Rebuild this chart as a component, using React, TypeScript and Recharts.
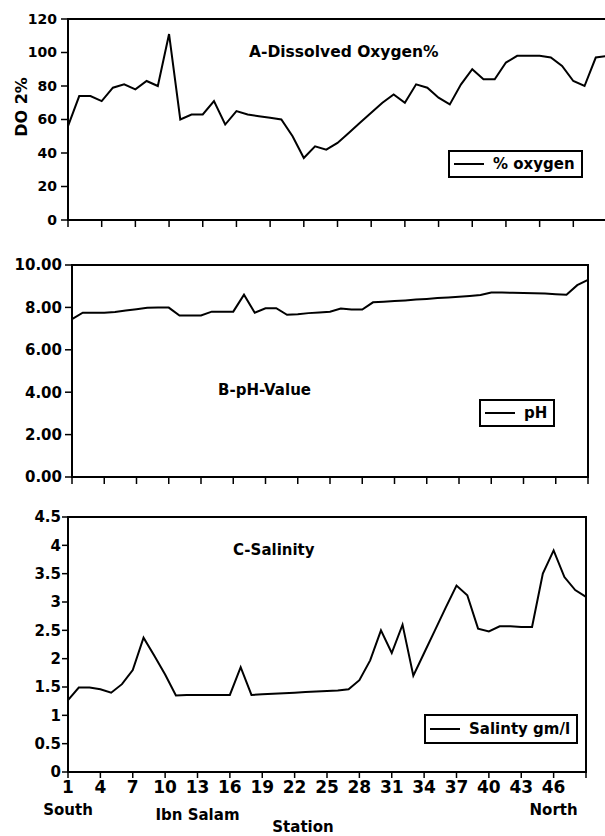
import React from "react";
import { LineChart, Line, XAxis, YAxis, ReferenceArea, Legend, Label } from "recharts";

const stations = [
  1, 2, 3, 4, 5, 6, 7, 8, 9, 10, 11, 12, 13, 14, 15, 16, 17, 18, 19, 20, 21, 22, 23, 24, 25,
  26, 27, 28, 29, 30, 31, 32, 33, 34, 35, 36, 37, 38, 39, 40, 41, 42, 43, 44, 45, 46, 47, 48, 49,
];
const stationTicks = [1, 4, 7, 10, 13, 16, 19, 22, 25, 28, 31, 34, 37, 40, 43, 46, 49];
const placeNames: Record<number, string> = { 1: "South", 13: "Ibn Salam", 46: "North" };

const oxygen = [
  56, 74, 74, 71, 79, 81, 78, 83, 80, 111, 60, 63, 63, 71, 57, 65, 63, 62, 61, 60, 50, 37, 44, 42, 46,
  52, 58, 64, 70, 75, 70, 81, 79, 73, 69, 81, 90, 84, 84, 94, 98, 98, 98, 97, 92, 83, 80, 97, 98,
];
const ph = [
  7.45, 7.75, 7.75, 7.75, 7.78, 7.85, 7.91, 7.98, 7.99, 7.99, 7.62, 7.62, 7.62, 7.8, 7.8, 7.8, 8.6,
  7.75, 7.96, 7.96, 7.65, 7.68, 7.73, 7.76, 7.8, 7.95, 7.9, 7.9, 8.24, 8.27, 8.3, 8.33, 8.37, 8.4,
  8.44, 8.47, 8.5, 8.54, 8.59, 8.7, 8.7, 8.69, 8.68, 8.67, 8.65, 8.62, 8.6, 9.05, 9.3,
];
const salinity = [
  1.27, 1.49, 1.49, 1.46, 1.4, 1.55, 1.8, 2.37, 2.05, 1.72, 1.35, 1.36, 1.36, 1.36, 1.36, 1.36, 1.85,
  1.36, 1.37, 1.38, 1.39, 1.4, 1.41, 1.42, 1.43, 1.44, 1.46, 1.62, 1.97, 2.5, 2.1, 2.6, 1.7, 2.1,
  2.5, 2.9, 3.29, 3.12, 2.53, 2.48, 2.57, 2.57, 2.56, 2.56, 3.5, 3.91, 3.44, 3.21, 3.09,
];

const oxygenTicks = [0, 20, 40, 60, 80, 100, 120];
const phTicks = [0, 2, 4, 6, 8, 10];
const salinityTicks = [0, 0.5, 1, 1.5, 2, 2.5, 3, 3.5, 4, 4.5];

const data = stations.map((s, i) => ({
  station: s,
  oxygen: oxygen[i],
  ph: ph[i],
  salinity: salinity[i],
}));

const font = "'DejaVu Sans', sans-serif";
const axisLine = { stroke: "#000", strokeWidth: 2 };
const tickLine = { stroke: "#000", strokeWidth: 1.5 };
const X_TICK = 7;
const X_GAP = 3;

function BoxLegend(props: any) {
  const item = props.payload && props.payload[0];
  return (
    <div
      style={{
        display: "inline-flex",
        alignItems: "center",
        border: "2px solid #000",
        height: props.h || 24,
        padding: "0 6px 0 4px",
        background: "#fff",
        fontFamily: font,
        fontWeight: "bold",
        fontSize: 15,
        color: "#000",
        whiteSpace: "nowrap",
      }}
    >
      <div style={{ width: 30, height: 2, background: "#000", marginRight: 9 }} />
      <span>{item ? item.value : ""}</span>
    </div>
  );
}

// x tick: draws its own tick mark, plus the station number / place name when asked
function StationTick(props: any) {
  const { x, y, payload, labels } = props;
  const v = payload.value;
  const top = y - X_GAP - X_TICK;
  const name = labels ? placeNames[v] : undefined;
  return (
    <g>
      <line x1={x} x2={x} y1={top} y2={top + X_TICK} stroke="#000" strokeWidth={1.5} />
      {labels && v !== 49 && (
        <text x={x} y={y} dy={12} textAnchor="middle" fontFamily={font} fontWeight="bold" fontSize={17} fill="#000">
          {v}
        </text>
      )}
      {name && (
        <text
          x={x}
          y={y + (v === 13 ? 39 : 34)}
          textAnchor="middle"
          fontFamily={font}
          fontWeight="bold"
          fontSize={15}
          fill="#000"
        >
          {name}
        </text>
      )}
    </g>
  );
}

const tickFont = (size: number) => ({ fill: "#000", fontSize: size, fontFamily: font, fontWeight: "bold" });

export default function App() {
  return (
    <div
      style={{
        position: "absolute",
        left: 0,
        top: 0,
        width: 605,
        height: 836,
        overflow: "hidden",
        background: "#fff",
      }}
    >
      {/* A - dissolved oxygen */}
      <div style={{ position: "absolute", left: 0, top: 0 }}>
        <LineChart width={620} height={250} data={data} margin={{ top: 19, right: 13, left: 0, bottom: 0 }}>
          <ReferenceArea x1={1} x2={49} y1={0} y2={120} fill="none" stroke="#000" strokeWidth={2} />
          <XAxis
            dataKey="station"
            type="number"
            domain={[1, 49]}
            ticks={stationTicks}
            interval={0}
            height={30}
            axisLine={axisLine}
            tickLine={false}
            tickSize={X_TICK}
            tickMargin={X_GAP}
            tick={<StationTick />}
          />
          <YAxis
            type="number"
            domain={[0, 120]}
            ticks={oxygenTicks}
            interval={0}
            width={68}
            axisLine={axisLine}
            tickLine={tickLine}
            tickSize={7}
            tickMargin={4}
            tick={tickFont(14)}
          />
          <Legend
            layout="horizontal"
            verticalAlign="middle"
            align="center"
            wrapperStyle={{ left: 448, top: 150, width: "auto", height: "auto" }}
            content={<BoxLegend />}
          />
          <Line
            type="linear"
            dataKey="oxygen"
            name="% oxygen"
            stroke="#000"
            strokeWidth={2}
            dot={false}
            isAnimationActive={false}
          />
        </LineChart>
      </div>

      {/* B - pH */}
      <div style={{ position: "absolute", left: 0, top: 240 }}>
        <LineChart width={600} height={260} data={data} margin={{ top: 25, right: 12, left: 0, bottom: 0 }}>
          <ReferenceArea x1={1} x2={49} y1={0} y2={10} fill="none" stroke="#000" strokeWidth={2} />
          <XAxis
            dataKey="station"
            type="number"
            domain={[1, 49]}
            ticks={stationTicks}
            interval={0}
            height={23}
            axisLine={axisLine}
            tickLine={false}
            tickSize={X_TICK}
            tickMargin={X_GAP}
            tick={<StationTick />}
          />
          <YAxis
            type="number"
            domain={[0, 10]}
            ticks={phTicks}
            interval={0}
            width={72}
            axisLine={axisLine}
            tickLine={tickLine}
            tickSize={7}
            tickMargin={3}
            tick={tickFont(15)}
            tickFormatter={(v: number) => v.toFixed(2)}
          />
          <Legend
            layout="horizontal"
            verticalAlign="middle"
            align="center"
            wrapperStyle={{ left: 479, top: 159, width: "auto", height: "auto" }}
            content={<BoxLegend />}
          />
          <Line
            type="linear"
            dataKey="ph"
            name="pH"
            stroke="#000"
            strokeWidth={2}
            dot={false}
            isAnimationActive={false}
          />
        </LineChart>
      </div>

      {/* C - salinity */}
      <div style={{ position: "absolute", left: 0, top: 490 }}>
        <LineChart width={600} height={346} data={data} margin={{ top: 27, right: 14, left: 0, bottom: 0 }}>
          <ReferenceArea x1={1} x2={49} y1={0} y2={4.5} fill="none" stroke="#000" strokeWidth={2} />
          <XAxis
            dataKey="station"
            type="number"
            domain={[1, 49]}
            ticks={stationTicks}
            interval={0}
            height={64}
            axisLine={axisLine}
            tickLine={false}
            tickSize={6}
            tickMargin={3}
            tick={<StationTick labels />}
          >
            <Label
              value="Station"
              position="insideBottom"
              offset={4}
              dx={-24}
              fill="#000"
              fontSize={15}
              fontWeight="bold"
              fontFamily={font}
            />
          </XAxis>
          <YAxis
            type="number"
            domain={[0, 4.5]}
            ticks={salinityTicks}
            interval={0}
            width={68}
            axisLine={axisLine}
            tickLine={tickLine}
            tickSize={6}
            tickMargin={1}
            tick={tickFont(15)}
          />
          <Legend
            layout="horizontal"
            verticalAlign="middle"
            align="center"
            wrapperStyle={{ left: 424, top: 224, width: "auto", height: "auto" }}
            content={<BoxLegend h={26} />}
          />
          <Line
            type="linear"
            dataKey="salinity"
            name="Salinty gm/l"
            stroke="#000"
            strokeWidth={2}
            dot={false}
            isAnimationActive={false}
          />
        </LineChart>
      </div>

      {/* panel titles and y label */}
      <svg
        width={605}
        height={836}
        style={{ position: "absolute", left: 0, top: 0, pointerEvents: "none" }}
        fontFamily={font}
        fontWeight="bold"
        fill="#000"
      >
        <text x={249} y={57} fontSize={15.5}>A-Dissolved Oxygen%</text>
        <text x={218} y={395} fontSize={15}>B-pH-Value</text>
        <text x={233} y={555} fontSize={15}>C-Salinity</text>
        <text x={27} y={107} fontSize={16} textAnchor="middle" transform="rotate(-90 27 107)">
          DO 2%
        </text>
      </svg>
    </div>
  );
}
